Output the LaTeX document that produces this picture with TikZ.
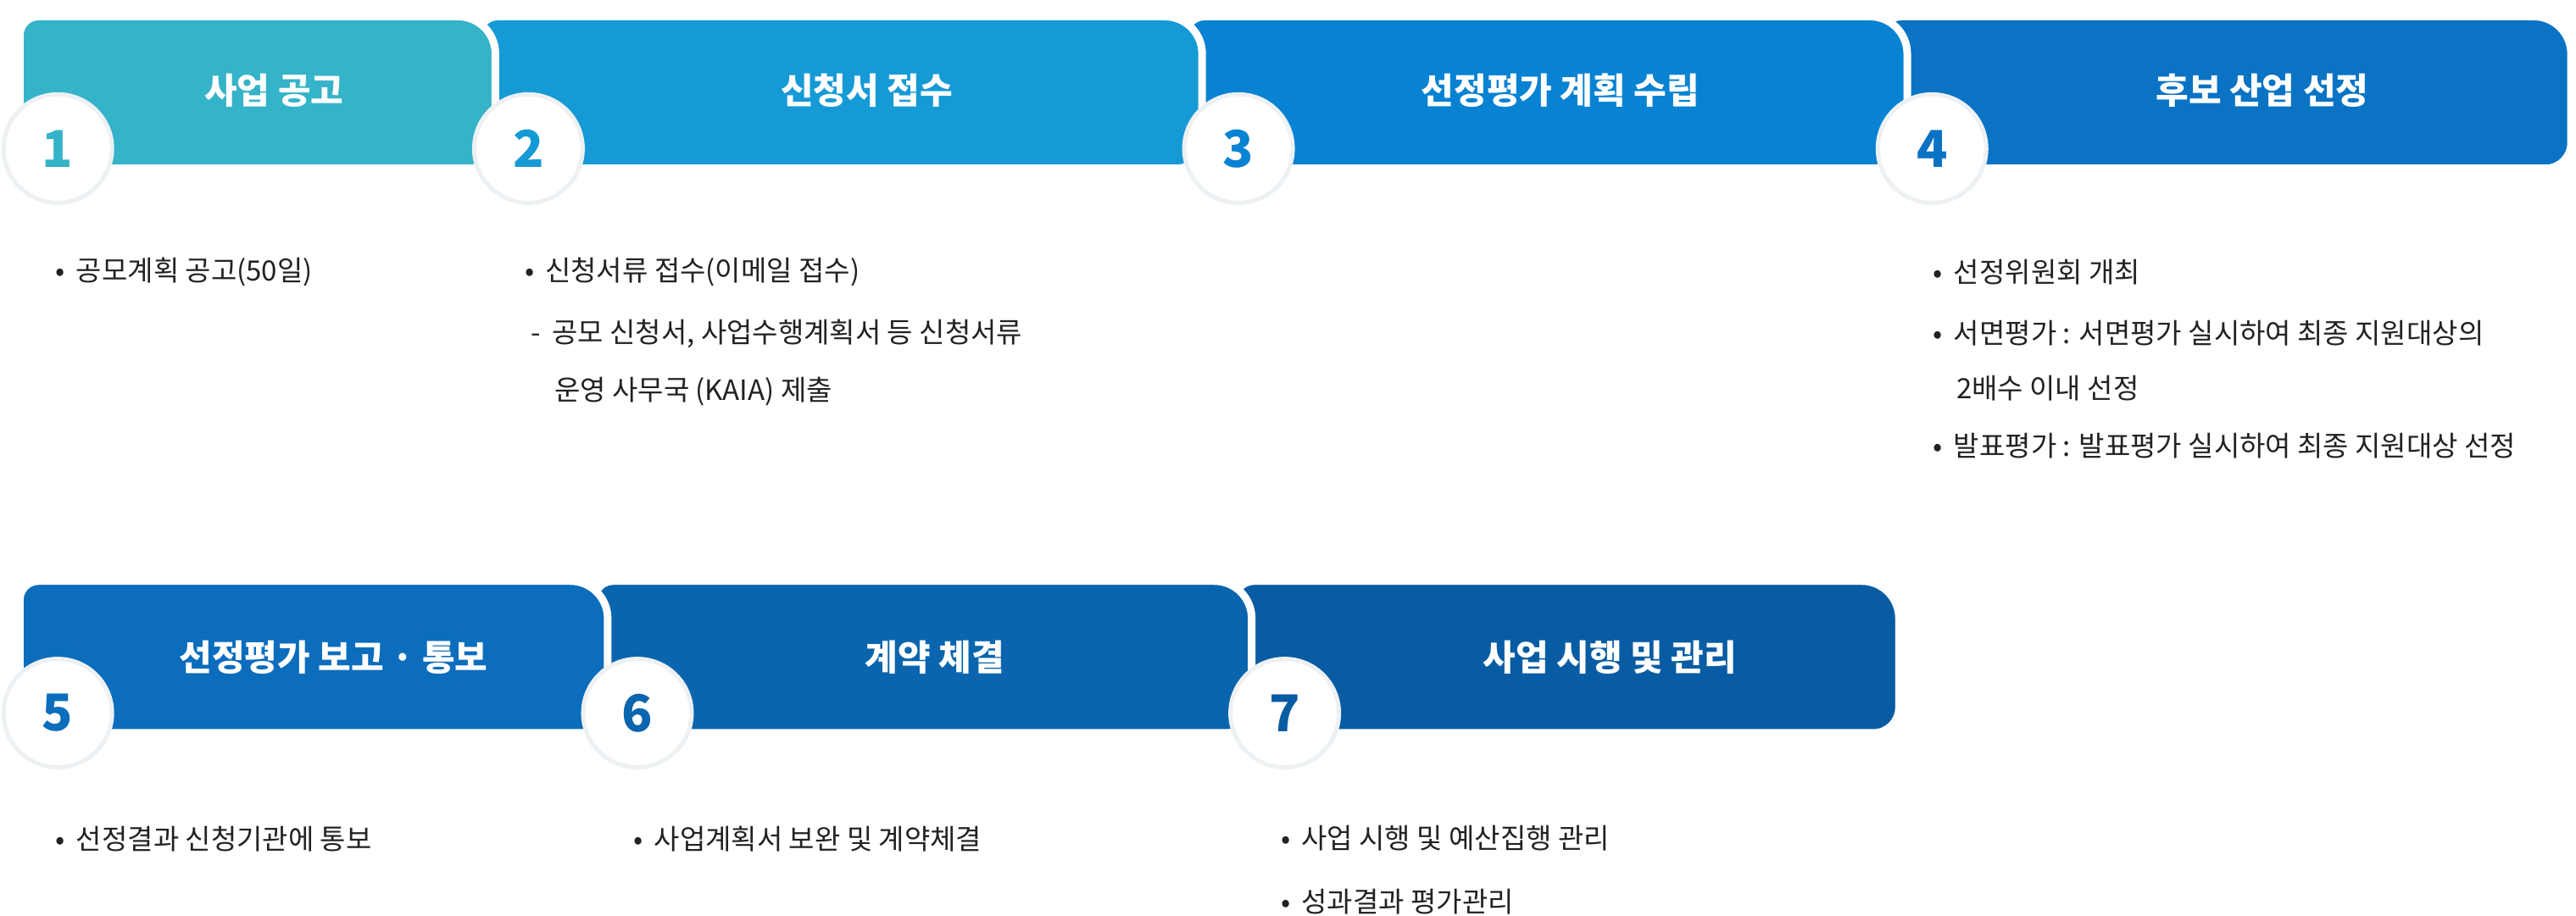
\documentclass[tikz,border=0pt]{standalone}
\usepackage{fontspec}
\setmainfont{Noto Sans CJK KR}
\usetikzlibrary{positioning}

\definecolor{stepA}{HTML}{35B3C8}
\definecolor{stepB}{HTML}{169AD6}
\definecolor{stepC}{HTML}{0882D2}
\definecolor{stepD}{HTML}{0A73C4}
\definecolor{stepE}{HTML}{0C6DBD}
\definecolor{stepF}{HTML}{0A65AE}
\definecolor{stepG}{HTML}{085CA3}
\definecolor{ringgray}{HTML}{EDF1F3}
\definecolor{textdark}{HTML}{222222}

\tikzset{
  bar/.style={draw=white, line width=9pt},
  num/.style={circle, fill=white, draw=ringgray, line width=5pt,
    minimum size=128pt, inner sep=0pt, font=\fontsize{60}{60}\bfseries\selectfont},
  title/.style={text=white, font=\fontsize{42}{42}\bfseries\selectfont},
  item/.style={anchor=west, text=textdark, font=\fontsize{33}{33}\selectfont},
}

\begin{document}
\begin{tikzpicture}[x=1.948pt, y=-1.948pt]

      \useasboundingbox [fill=white] (0, 0) rectangle (1560, 554.4);

      % first row, drawn from the back to the front
      \fill [stepD, bar] (1140, 102) [rounded corners=22] -- (1140, 10)
        [rounded corners=44] -- (1557, 10) [rounded corners=30] -- (1557, 102)
        [sharp corners] -- cycle;
      \fill [stepC, bar] (718, 102) [rounded corners=22] -- (718, 10)
        [rounded corners=44] -- (1155, 10) [rounded corners=30] -- (1155, 102)
        [sharp corners] -- cycle;
      \fill [stepB, bar] (290, 102) [rounded corners=22] -- (290, 10)
        [rounded corners=44] -- (728, 10) [rounded corners=30] -- (728, 102)
        [sharp corners] -- cycle;
      \fill [stepA, bar] (12, 102) [rounded corners=22] -- (12, 10)
        [rounded corners=44] -- (300, 10) [rounded corners=30] -- (300, 102)
        [sharp corners] -- cycle;

      \node[title] (t1) at (166, 55) {사업 공고};
      \node[title] (t2) at (525, 55) {신청서 접수};
      \node[title] (t3) at (945, 55) {선정평가 계획 수립};
      \node[title] (t4) at (1370, 55) {후보 산업 선정};

      \node[num, text=stepA] (n1) at (35, 90) {1};
      \node[num, text=stepB] (n2) at (320, 90) {2};
      \node[num, text=stepC] (n3) at (750, 90) {3};
      \node[num, text=stepD] (n4) at (1170, 90) {4};

      % second row
      \fill [stepG, bar] (748, 444) [rounded corners=22] -- (748, 352)
        [rounded corners=44] -- (1150, 352) [rounded corners=30] -- (1150, 444)
        [sharp corners] -- cycle;
      \fill [stepF, bar] (360, 444) [rounded corners=22] -- (360, 352)
        [rounded corners=44] -- (758, 352) [rounded corners=30] -- (758, 444)
        [sharp corners] -- cycle;
      \fill [stepE, bar] (12, 444) [rounded corners=22] -- (12, 352)
        [rounded corners=44] -- (368, 352) [rounded corners=30] -- (368, 444)
        [sharp corners] -- cycle;

      \node[title] (t5) at (202, 398) {선정평가 보고 · 통보};
      \node[title] (t6) at (566, 398) {계약 체결};
      \node[title] (t7) at (975, 398) {사업 시행 및 관리};

      \node[num, text=stepE] (n5) at (35, 432) {5};
      \node[num, text=stepF] (n6) at (386, 432) {6};
      \node[num, text=stepG] (n7) at (778, 432) {7};

      % items
      \node[item] (a1) at (32, 165) {•\, 공모계획 공고(50일)};

      \node[item] (b1) at (316, 165) {•\, 신청서류 접수(이메일 접수)};
      \node[item] (b2) at (320, 202) {-\, 공모 신청서, 사업수행계획서 등 신청서류};
      \node[item] (b3) at (334, 237) {운영 사무국 (KAIA) 제출};

      \node[item] (d1) at (1169, 165) {•\, 선정위원회 개최};
      \node[item] (d2) at (1169, 202) {•\, 서면평가 : 서면평가 실시하여 최종 지원대상의};
      \node[item] (d3) at (1183, 235) {2배수 이내 선정};
      \node[item] (d4) at (1169, 270) {•\, 발표평가 : 발표평가 실시하여 최종 지원대상 선정};

      \node[item] (e1) at (32, 508) {•\, 선정결과 신청기관에 통보};
      \node[item] (f1) at (382, 508) {•\, 사업계획서 보완 및 계약체결};
      \node[item] (g1) at (774, 508) {•\, 사업 시행 및 예산집행 관리};
      \node[item] (g2) at (774, 546) {•\, 성과결과 평가관리};

    \end{tikzpicture}
\end{document}
